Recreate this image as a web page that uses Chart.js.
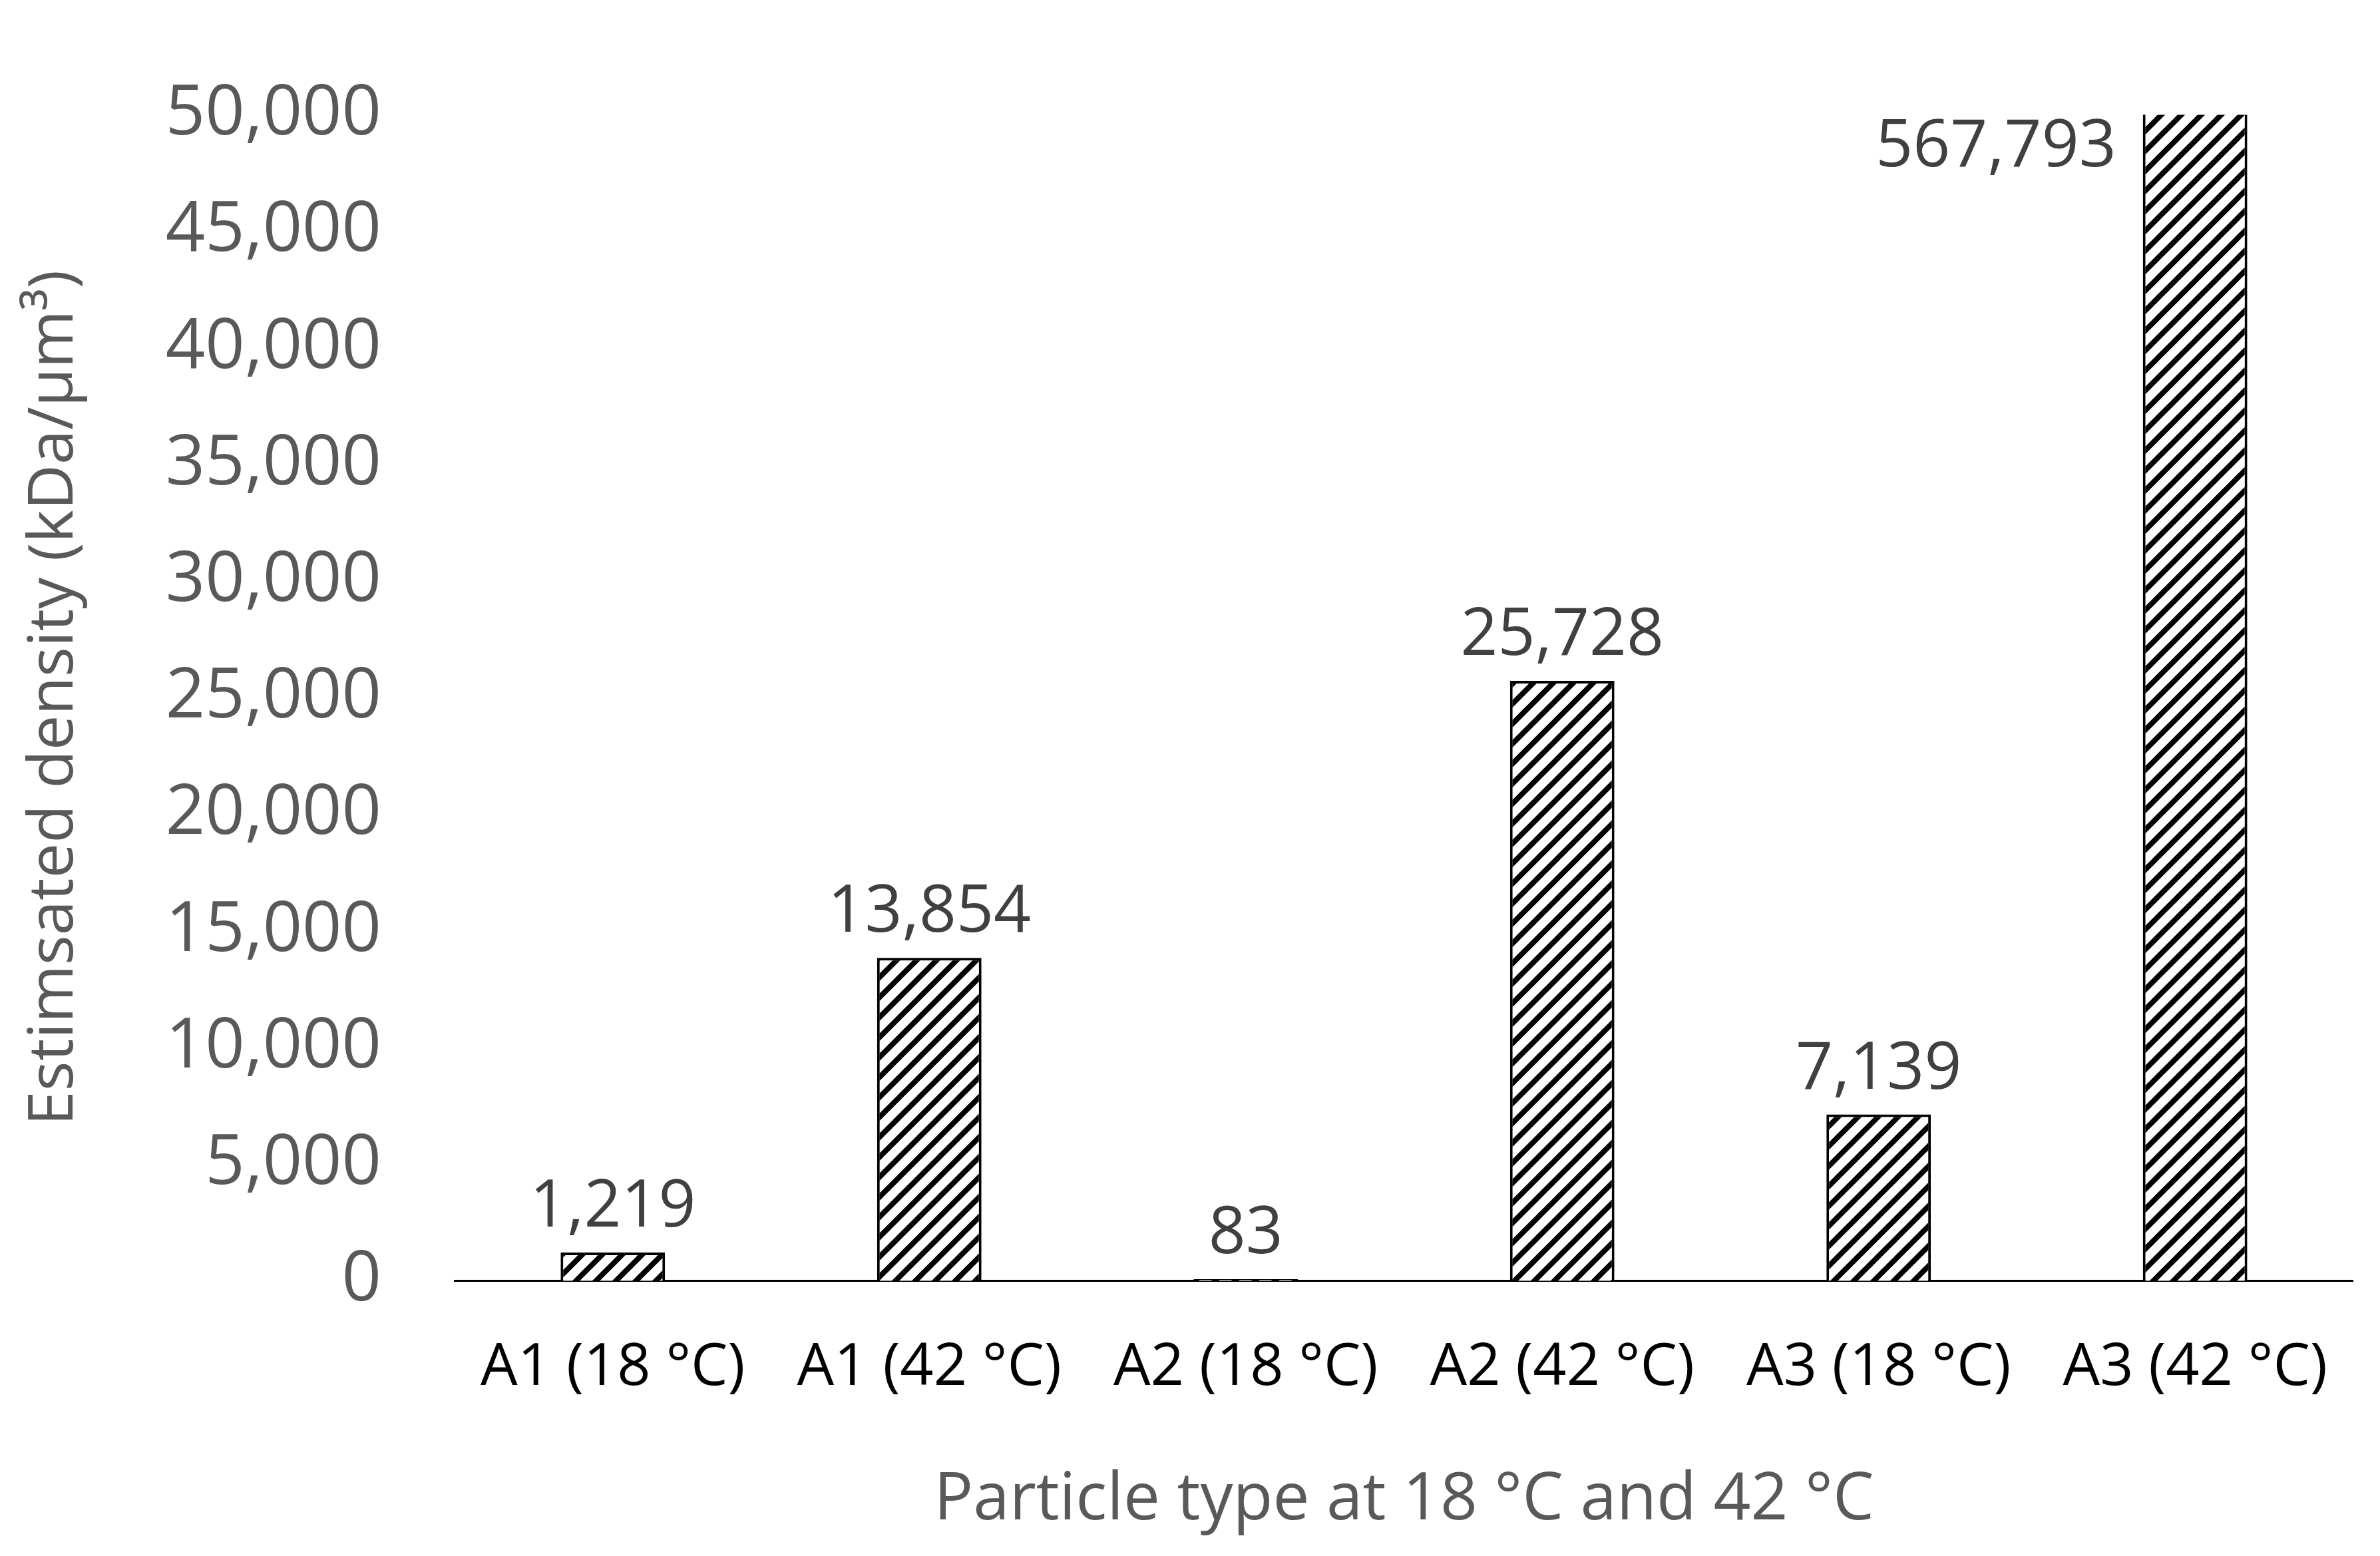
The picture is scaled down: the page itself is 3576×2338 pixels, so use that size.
<!DOCTYPE html>
<html>
<head>
<meta charset="utf-8">
<script src="https://cdn.jsdelivr.net/npm/chart.js@4"></script>
<style>
  html, body { margin: 0; padding: 0; background: #fff; }
</style>
</head>
<body>
<canvas id="myChart" width="3576" height="2338" style="width:3576px;height:2338px"></canvas>
<script>
const categorias = ['A1 (18 °C)', 'A1 (42 °C)', 'A2 (18 °C)', 'A2 (42 °C)', 'A3 (18 °C)', 'A3 (42 °C)']
const densidades = [1219, 13854, 83, 25728, 7139, 567793]
const ticksY = [0, 5000, 10000, 15000, 20000, 25000, 30000, 35000, 40000, 45000, 50000]

// hachura diagonal
const tile = document.createElement('canvas')
tile.width = 30; tile.height = 30
const tctx = tile.getContext('2d')
tctx.fillStyle = '#fff'; tctx.fillRect(0, 0, 30, 30)
tctx.strokeStyle = '#000'; tctx.lineWidth = 8
tctx.beginPath()
for (let k = -1; k <= 1; k++) {
  tctx.moveTo(k * 30 - 5, 35); tctx.lineTo(k * 30 + 35, -5)
}
tctx.stroke()
const hachura = tctx.createPattern(tile, 'repeat')

const rotulos = {
  id: 'rotulos',
  afterDatasetsDraw(chart) {
    const c = chart.ctx
    const meta = chart.getDatasetMeta(0)
    c.save()
    c.font = '98px "Open Sans"'
    c.fillStyle = '#404040'
    meta.data.forEach((bar, i) => {
      const txt = densidades[i].toLocaleString('en-US')
      if (densidades[i] > chart.scales.y.max) {
        c.textAlign = 'right'; c.textBaseline = 'middle'
        c.fillText(txt, bar.x - bar.width / 2 - 40, chart.chartArea.top + 50)
      } else {
        c.textAlign = 'center'; c.textBaseline = 'bottom'
        c.fillText(txt, bar.x, bar.y - 18)
      }
    })
    c.restore()
  }
}

const ctx = document.getElementById('myChart').getContext('2d')
new Chart(ctx, {
  type: 'bar',
  data: {
    labels: categorias,
    datasets: [{
      data: densidades,
      backgroundColor: hachura,
      borderColor: '#000',
      borderWidth: 4,
      barPercentage: 0.33,
      categoryPercentage: 1
    }]
  },
  options: {
    responsive: false,
    animation: false,
    devicePixelRatio: 1,
    layout: { padding: { top: -50, right: 14, left: 22, bottom: 20 } },
    plugins: { legend: { display: false }, tooltip: { enabled: false } },
    scales: {
      x: {
        grid: { display: false, drawTicks: false },
        border: { color: '#000', width: 3 },
        ticks: { color: '#000', font: { family: 'Open Sans', size: 88 }, padding: 78, maxRotation: 0 },
        title: { display: true, text: 'Particle type at 18 °C and 42 °C', color: '#595959',
                 font: { family: 'Open Sans', size: 98 }, padding: { top: 10 } }
      },
      y: {
        min: 0, max: 50000,
        afterBuildTicks: (s) => { s.ticks = ticksY.map(v => ({ value: v })) },
        grid: { display: false, drawTicks: false },
        border: { display: false },
        ticks: { color: '#595959', font: { family: 'Open Sans', size: 104 }, padding: 110,
                 callback: (v) => v.toLocaleString('en-US') },
        title: { display: true, text: 'Estimsated density (kDa/µm³)', color: '#595959',
                 font: { family: 'Open Sans', size: 94 }, padding: { bottom: 0 } }
      }
    }
  },
  plugins: [rotulos]
})
</script>
</body>
</html>
